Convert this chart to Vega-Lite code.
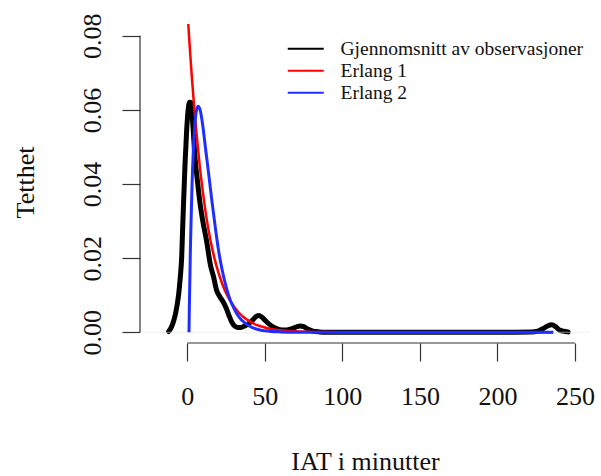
{
  "$schema": "https://vega.github.io/schema/vega-lite/v6.json",
  "width": 450,
  "height": 319,
  "autosize": {"type": "none"},
  "padding": {"left": 140, "top": 24, "right": 11, "bottom": 133},
  "background": "white",
  "config": {
    "view": {"stroke": null},
    "font": "Liberation Serif",
    "style": {
      "guide-label": {"font": "Liberation Serif"},
      "guide-title": {"font": "Liberation Serif"}
    }
  },
  "datasets": {
    "xaxis": [{"a": 0, "b": 250}],
    "yaxis": [{"a": 0, "b": 0.08}],
    "zero": [{"y": 0}],
    "curves": [
      {"s": "Gjennomsnitt av observasjoner", "x": -12, "y": 0.0002},
      {"s": "Gjennomsnitt av observasjoner", "x": -10.5, "y": 0.0012},
      {"s": "Gjennomsnitt av observasjoner", "x": -9, "y": 0.0028},
      {"s": "Gjennomsnitt av observasjoner", "x": -7.5, "y": 0.0052},
      {"s": "Gjennomsnitt av observasjoner", "x": -6.5, "y": 0.0075},
      {"s": "Gjennomsnitt av observasjoner", "x": -5.5, "y": 0.0105},
      {"s": "Gjennomsnitt av observasjoner", "x": -4.5, "y": 0.015},
      {"s": "Gjennomsnitt av observasjoner", "x": -3.6, "y": 0.0204},
      {"s": "Gjennomsnitt av observasjoner", "x": -3, "y": 0.028},
      {"s": "Gjennomsnitt av observasjoner", "x": -2.4, "y": 0.035},
      {"s": "Gjennomsnitt av observasjoner", "x": -1.5, "y": 0.045},
      {"s": "Gjennomsnitt av observasjoner", "x": -0.4, "y": 0.0546},
      {"s": "Gjennomsnitt av observasjoner", "x": 0.5, "y": 0.0598},
      {"s": "Gjennomsnitt av observasjoner", "x": 1.5, "y": 0.0621},
      {"s": "Gjennomsnitt av observasjoner", "x": 2.5, "y": 0.0619},
      {"s": "Gjennomsnitt av observasjoner", "x": 3.5, "y": 0.0565},
      {"s": "Gjennomsnitt av observasjoner", "x": 5, "y": 0.047},
      {"s": "Gjennomsnitt av observasjoner", "x": 6.5, "y": 0.041},
      {"s": "Gjennomsnitt av observasjoner", "x": 8, "y": 0.0355},
      {"s": "Gjennomsnitt av observasjoner", "x": 10, "y": 0.030},
      {"s": "Gjennomsnitt av observasjoner", "x": 12.5, "y": 0.0245},
      {"s": "Gjennomsnitt av observasjoner", "x": 15, "y": 0.018},
      {"s": "Gjennomsnitt av observasjoner", "x": 16.8, "y": 0.0152},
      {"s": "Gjennomsnitt av observasjoner", "x": 19, "y": 0.0112},
      {"s": "Gjennomsnitt av observasjoner", "x": 21, "y": 0.0096},
      {"s": "Gjennomsnitt av observasjoner", "x": 23, "y": 0.0083},
      {"s": "Gjennomsnitt av observasjoner", "x": 25, "y": 0.0066},
      {"s": "Gjennomsnitt av observasjoner", "x": 27, "y": 0.0044},
      {"s": "Gjennomsnitt av observasjoner", "x": 28.6, "y": 0.0028},
      {"s": "Gjennomsnitt av observasjoner", "x": 30.5, "y": 0.0017},
      {"s": "Gjennomsnitt av observasjoner", "x": 32.5, "y": 0.0013},
      {"s": "Gjennomsnitt av observasjoner", "x": 34.5, "y": 0.0013},
      {"s": "Gjennomsnitt av observasjoner", "x": 37, "y": 0.0017},
      {"s": "Gjennomsnitt av observasjoner", "x": 39.5, "y": 0.0023},
      {"s": "Gjennomsnitt av observasjoner", "x": 42, "y": 0.0032},
      {"s": "Gjennomsnitt av observasjoner", "x": 44, "y": 0.0041},
      {"s": "Gjennomsnitt av observasjoner", "x": 46, "y": 0.0045},
      {"s": "Gjennomsnitt av observasjoner", "x": 48, "y": 0.0041},
      {"s": "Gjennomsnitt av observasjoner", "x": 50, "y": 0.0033},
      {"s": "Gjennomsnitt av observasjoner", "x": 52, "y": 0.0025},
      {"s": "Gjennomsnitt av observasjoner", "x": 55, "y": 0.0015},
      {"s": "Gjennomsnitt av observasjoner", "x": 58, "y": 0.0009},
      {"s": "Gjennomsnitt av observasjoner", "x": 61, "y": 0.0006},
      {"s": "Gjennomsnitt av observasjoner", "x": 64, "y": 0.0006},
      {"s": "Gjennomsnitt av observasjoner", "x": 67, "y": 0.0009},
      {"s": "Gjennomsnitt av observasjoner", "x": 70, "y": 0.0014},
      {"s": "Gjennomsnitt av observasjoner", "x": 72.7, "y": 0.0017},
      {"s": "Gjennomsnitt av observasjoner", "x": 75, "y": 0.0015},
      {"s": "Gjennomsnitt av observasjoner", "x": 78, "y": 0.0008},
      {"s": "Gjennomsnitt av observasjoner", "x": 81, "y": 0.0003},
      {"s": "Gjennomsnitt av observasjoner", "x": 85, "y": 0.0001},
      {"s": "Gjennomsnitt av observasjoner", "x": 90, "y": 0.00003},
      {"s": "Gjennomsnitt av observasjoner", "x": 100, "y": 0.00002},
      {"s": "Gjennomsnitt av observasjoner", "x": 150, "y": 0.00001},
      {"s": "Gjennomsnitt av observasjoner", "x": 200, "y": 0.00002},
      {"s": "Gjennomsnitt av observasjoner", "x": 222, "y": 0.00005},
      {"s": "Gjennomsnitt av observasjoner", "x": 226, "y": 0.0003},
      {"s": "Gjennomsnitt av observasjoner", "x": 229, "y": 0.0009},
      {"s": "Gjennomsnitt av observasjoner", "x": 232, "y": 0.0016},
      {"s": "Gjennomsnitt av observasjoner", "x": 235, "y": 0.002},
      {"s": "Gjennomsnitt av observasjoner", "x": 237.5, "y": 0.0015},
      {"s": "Gjennomsnitt av observasjoner", "x": 240, "y": 0.0006},
      {"s": "Gjennomsnitt av observasjoner", "x": 242.5, "y": 0.0003},
      {"s": "Gjennomsnitt av observasjoner", "x": 245.6, "y": 0.0001},
      {"s": "Erlang 1", "x": 0.6, "y": 0.0834},
      {"s": "Erlang 1", "x": 1.5, "y": 0.0775},
      {"s": "Erlang 1", "x": 3, "y": 0.0685},
      {"s": "Erlang 1", "x": 4.5, "y": 0.0605},
      {"s": "Erlang 1", "x": 6, "y": 0.0535},
      {"s": "Erlang 1", "x": 8, "y": 0.045},
      {"s": "Erlang 1", "x": 10, "y": 0.038},
      {"s": "Erlang 1", "x": 12.5, "y": 0.0305},
      {"s": "Erlang 1", "x": 15, "y": 0.0247},
      {"s": "Erlang 1", "x": 17.5, "y": 0.02},
      {"s": "Erlang 1", "x": 20, "y": 0.0162},
      {"s": "Erlang 1", "x": 22.5, "y": 0.0131},
      {"s": "Erlang 1", "x": 25, "y": 0.0106},
      {"s": "Erlang 1", "x": 27.5, "y": 0.0086},
      {"s": "Erlang 1", "x": 30, "y": 0.007},
      {"s": "Erlang 1", "x": 33, "y": 0.0054},
      {"s": "Erlang 1", "x": 36, "y": 0.0042},
      {"s": "Erlang 1", "x": 40, "y": 0.003},
      {"s": "Erlang 1", "x": 45, "y": 0.0019},
      {"s": "Erlang 1", "x": 50, "y": 0.0013},
      {"s": "Erlang 1", "x": 55, "y": 0.00085},
      {"s": "Erlang 1", "x": 60, "y": 0.00056},
      {"s": "Erlang 1", "x": 70, "y": 0.00024},
      {"s": "Erlang 1", "x": 80, "y": 0.0001},
      {"s": "Erlang 1", "x": 90, "y": 0.00004},
      {"s": "Erlang 1", "x": 110, "y": 0.00001},
      {"s": "Erlang 1", "x": 150, "y": 0},
      {"s": "Erlang 1", "x": 236, "y": 0},
      {"s": "Erlang 2", "x": 1.1, "y": 0},
      {"s": "Erlang 2", "x": 1.3, "y": 0.006},
      {"s": "Erlang 2", "x": 1.6, "y": 0.013},
      {"s": "Erlang 2", "x": 2, "y": 0.0225},
      {"s": "Erlang 2", "x": 2.5, "y": 0.031},
      {"s": "Erlang 2", "x": 3, "y": 0.039},
      {"s": "Erlang 2", "x": 4, "y": 0.05},
      {"s": "Erlang 2", "x": 5, "y": 0.0567},
      {"s": "Erlang 2", "x": 6, "y": 0.06},
      {"s": "Erlang 2", "x": 7, "y": 0.061},
      {"s": "Erlang 2", "x": 8, "y": 0.0604},
      {"s": "Erlang 2", "x": 9, "y": 0.0585},
      {"s": "Erlang 2", "x": 10, "y": 0.0557},
      {"s": "Erlang 2", "x": 12, "y": 0.0488},
      {"s": "Erlang 2", "x": 14, "y": 0.042},
      {"s": "Erlang 2", "x": 16, "y": 0.035},
      {"s": "Erlang 2", "x": 18, "y": 0.0285},
      {"s": "Erlang 2", "x": 20, "y": 0.0225},
      {"s": "Erlang 2", "x": 22.5, "y": 0.0168},
      {"s": "Erlang 2", "x": 25, "y": 0.0123},
      {"s": "Erlang 2", "x": 27.5, "y": 0.0089},
      {"s": "Erlang 2", "x": 30, "y": 0.0065},
      {"s": "Erlang 2", "x": 32.5, "y": 0.0046},
      {"s": "Erlang 2", "x": 35, "y": 0.0033},
      {"s": "Erlang 2", "x": 40, "y": 0.0017},
      {"s": "Erlang 2", "x": 45, "y": 0.0008},
      {"s": "Erlang 2", "x": 50, "y": 0.0004},
      {"s": "Erlang 2", "x": 60, "y": 0.0001},
      {"s": "Erlang 2", "x": 70, "y": 0.00002},
      {"s": "Erlang 2", "x": 100, "y": 0},
      {"s": "Erlang 2", "x": 236, "y": 0}
    ]
  },
  "layer": [
    {
      "data": {"name": "curves"},
      "transform": [{"filter": "datum.s === 'Gjennomsnitt av observasjoner'"}],
      "mark": {"type": "line", "clip": true, "strokeWidth": 5, "strokeJoin": "round", "strokeCap": "round", "interpolate": "monotone"},
      "encoding": {
        "x": {
          "field": "x", "type": "quantitative",
          "scale": {"domain": [-30.5, 259.7], "nice": false, "zero": false},
          "axis": {
            "values": [0, 50, 100, 150, 200, 250],
            "domain": false, "grid": false,
            "tickSize": 18, "tickColor": "#333333", "tickWidth": 1.2,
            "labelFont": "Liberation Serif", "labelFontSize": 26, "labelColor": "#111111",
            "labelPadding": 22, "labelFlush": false, "labelOverlap": false,
            "title": "IAT i minutter", "titleFont": "Liberation Serif", "titleFontSize": 26,
            "titleFontWeight": "normal", "titleColor": "#111111",
            "titleBaseline": "alphabetic", "titleY": 126
          }
        },
        "y": {
          "field": "y", "type": "quantitative",
          "scale": {"domain": [-0.0029, 0.0832], "nice": false, "zero": false},
          "axis": {
            "values": [0, 0.02, 0.04, 0.06, 0.08], "format": ".2f",
            "domain": false, "grid": false,
            "tickSize": 18, "tickColor": "#333333", "tickWidth": 1.2,
            "labelFont": "Liberation Serif", "labelFontSize": 26, "labelColor": "#111111",
            "labelAngle": 270, "labelAlign": "center", "labelBaseline": "alphabetic",
            "labelPadding": 22, "labelFlush": false, "labelOverlap": false,
            "title": "Tetthet", "titleFont": "Liberation Serif", "titleFontSize": 26,
            "titleFontWeight": "normal", "titleColor": "#111111",
            "titleAngle": 270, "titleBaseline": "alphabetic", "titleAlign": "center",
            "titleX": -107, "titleY": 158
          }
        },
        "color": {
          "field": "s", "type": "nominal",
          "scale": {"domain": ["Gjennomsnitt av observasjoner", "Erlang 1", "Erlang 2"], "range": ["#000000", "#ff0000", "#1f2eff"]},
          "legend": {
            "title": null, "orient": "none", "legendX": 156, "legendY": 15, "padding": 0,
            "symbolType": "M-3.6,0H3.6", "symbolSize": 100, "symbolStrokeWidth": 2,
            "labelFont": "Liberation Serif", "labelFontSize": 19.5, "labelColor": "#111111",
            "labelOffset": 25, "rowPadding": 1, "labelLimit": 400
          }
        }
      }
    },
    {
      "data": {"name": "zero"},
      "mark": {"type": "rule", "color": "#e6e6e6", "strokeWidth": 0.6},
      "encoding": {
        "y": {"field": "y", "type": "quantitative"}
      }
    },
    {
      "data": {"name": "xaxis"},
      "mark": {"type": "rule", "color": "#333333", "strokeWidth": 1.2},
      "encoding": {
        "x": {"field": "a", "type": "quantitative"},
        "x2": {"field": "b"},
        "y": {"datum": -0.0029, "type": "quantitative"}
      }
    },
    {
      "data": {"name": "yaxis"},
      "mark": {"type": "rule", "color": "#333333", "strokeWidth": 1.2},
      "encoding": {
        "y": {"field": "a", "type": "quantitative"},
        "y2": {"field": "b"},
        "x": {"datum": -30.5, "type": "quantitative"}
      }
    },
    {
      "data": {"name": "curves"},
      "transform": [{"filter": "datum.s === 'Erlang 1'"}],
      "mark": {"type": "line", "clip": true, "strokeWidth": 2.5, "interpolate": "monotone"},
      "encoding": {
        "x": {"field": "x", "type": "quantitative"},
        "y": {"field": "y", "type": "quantitative"},
        "color": {"field": "s", "type": "nominal"}
      }
    },
    {
      "data": {"name": "curves"},
      "transform": [{"filter": "datum.s === 'Erlang 2'"}],
      "mark": {"type": "line", "clip": true, "strokeWidth": 3, "interpolate": "monotone"},
      "encoding": {
        "x": {"field": "x", "type": "quantitative"},
        "y": {"field": "y", "type": "quantitative"},
        "color": {"field": "s", "type": "nominal"}
      }
    }
  ]
}
